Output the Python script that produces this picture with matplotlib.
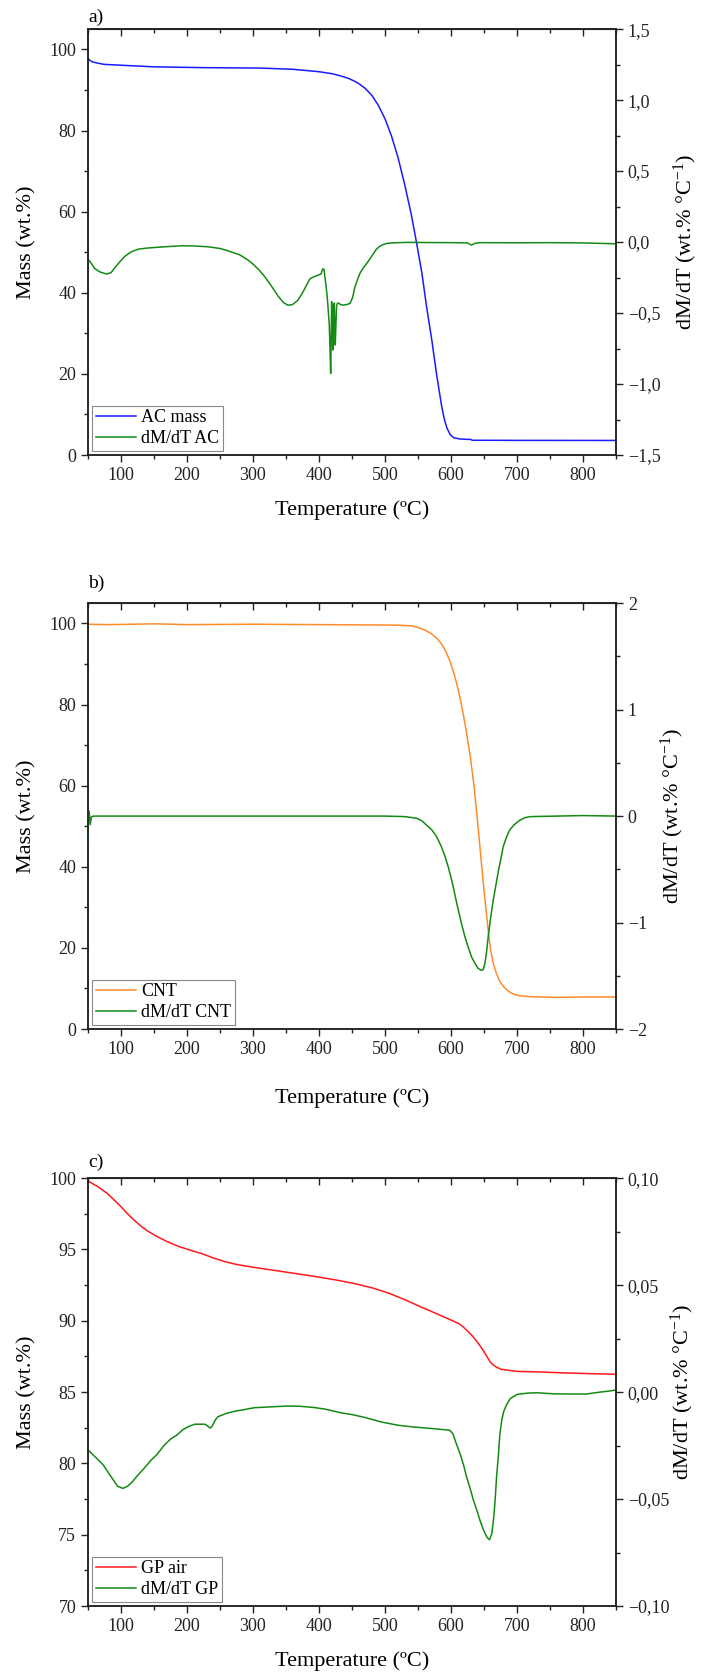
import matplotlib
matplotlib.use("Agg")
import matplotlib.pyplot as plt
import matplotlib.ticker as ticker

plt.rcParams["font.family"] = ["Liberation Serif", "DejaVu Serif"]
plt.rcParams["mathtext.fontset"] = "custom"
plt.rcParams["mathtext.rm"] = "Liberation Serif"
plt.rcParams["mathtext.it"] = "Liberation Serif:italic"

# ── a) activated carbon ──────────────────────────────────────────────────────
T_AC = [50, 52, 57, 65, 75, 100, 150, 225, 310, 360, 400, 420, 432, 444, 452,
        460, 470, 480, 490, 500, 510, 520, 530, 540, 548, 556, 563, 571, 578,
        586, 590, 594, 599, 604, 612, 620, 630, 632, 700, 850]
MASS_AC = [97.9, 97.4, 96.9, 96.6, 96.3, 96.1, 95.7, 95.5, 95.4, 95.1, 94.5,
           94.0, 93.5, 92.9, 92.3, 91.6, 90.4, 88.7, 86.2, 82.9, 78.6, 73.2,
           66.6, 59.2, 52.2, 44.8, 36.6, 28.3, 20.1, 11.9, 8.8, 6.6, 5.0, 4.3,
           4.0, 3.9, 3.85, 3.65, 3.62, 3.6]

T_AC_D = [50, 55, 60, 68, 78, 85, 90, 98, 106, 115, 126, 140, 151, 170, 191,
          210, 232, 250, 262, 280, 292, 300, 310, 318, 328, 338, 346, 353, 360,
          368, 376, 386, 392, 399, 403, 405.5, 407.5, 409, 411, 412.6, 414,
          415.6, 417, 417.7, 418.5, 419.2, 420.2, 421.2, 422.2, 423.2, 424,
          424.7, 425.7, 426.7, 428, 430.3, 433, 436.8, 442, 447, 451, 454.5,
          458, 462, 466, 470, 477, 482, 487, 492, 497, 503, 510, 520, 535, 560,
          600, 625, 631, 637, 645, 700, 750, 800, 850]
DMDT_AC = [-0.12, -0.15, -0.185, -0.21, -0.225, -0.215, -0.185, -0.14, -0.10,
           -0.07, -0.05, -0.042, -0.038, -0.032, -0.026, -0.027, -0.033, -0.045,
           -0.061, -0.09, -0.125, -0.155, -0.20, -0.245, -0.31, -0.38, -0.425,
           -0.445, -0.44, -0.41, -0.35, -0.26, -0.245, -0.232, -0.225, -0.19,
           -0.19, -0.245, -0.32, -0.39, -0.48, -0.58, -0.80, -0.925, -0.70,
           -0.42, -0.55, -0.76, -0.55, -0.43, -0.60, -0.725, -0.58, -0.445,
           -0.43, -0.432, -0.44, -0.444, -0.44, -0.432, -0.39, -0.315, -0.27,
           -0.22, -0.19, -0.165, -0.12, -0.085, -0.05, -0.03, -0.018, -0.009,
           -0.006, -0.004, -0.002, -0.003, -0.004, -0.006, -0.021, -0.008,
           -0.004, -0.005, -0.004, -0.006, -0.012]

# ── b) carbon nanotubes ──────────────────────────────────────────────────────
T_CNT = [50, 80, 120, 150, 200, 300, 400, 500, 520, 540, 550, 560, 570, 580,
         587, 593, 598, 603, 608, 613, 618, 623, 629, 635, 641, 649, 656.5, 660,
         664, 669, 674, 681, 689, 697, 705, 720, 760, 800, 850]
MASS_CNT = [99.8, 99.7, 99.8, 99.9, 99.7, 99.8, 99.7, 99.6, 99.55, 99.4, 99.0,
            98.4, 97.5, 96.1, 94.6, 92.8, 90.9, 88.5, 85.6, 82.2, 78.2, 73.6,
            67.4, 59.9, 49.9, 35.9, 24.1, 19.6, 16.2, 13.6, 11.7, 10.2, 9.1,
            8.5, 8.2, 8.0, 7.8, 7.9, 7.9]

T_CNT_D = [50, 51, 52, 53.5, 55, 58, 65, 100, 200, 300, 400, 500, 530, 548,
           556, 563, 571, 578, 585, 591, 596, 601, 606, 611, 616, 621, 626, 631,
           636, 641, 646.5, 649, 651.5, 654, 656.5, 660, 664, 668, 672, 676,
           679, 684, 689, 696, 704, 712, 720, 760, 800, 850]
DMDT_CNT = [-0.25, 0.05, 0.03, -0.08, -0.01, 0.0, 0.0, 0.0, 0.0, 0.0, 0.0, 0.0,
            -0.005, -0.02, -0.045, -0.085, -0.13, -0.19, -0.28, -0.38, -0.48,
            -0.60, -0.74, -0.88, -1.01, -1.13, -1.23, -1.32, -1.38, -1.43,
            -1.45, -1.44, -1.38, -1.27, -1.13, -0.96, -0.79, -0.65, -0.51,
            -0.39, -0.29, -0.20, -0.13, -0.08, -0.04, -0.015, -0.005, 0.0,
            0.005, 0.0]

# ── c) GP in air ─────────────────────────────────────────────────────────────
T_GP = [50, 65, 80, 100, 110, 120, 130, 140, 155, 170, 188, 205, 223, 240, 257,
        275, 298, 330, 359, 395, 427, 455, 481, 505, 529, 553, 578, 600, 612,
        619, 627, 634, 640, 647, 653, 659, 664, 669, 676, 684, 700, 730, 770,
        806, 850]
MASS_GP = [99.8, 99.4, 98.9, 98.0, 97.5, 97.05, 96.65, 96.3, 95.9, 95.55, 95.2,
           94.95, 94.7, 94.4, 94.15, 93.95, 93.77, 93.55, 93.35, 93.1, 92.85,
           92.6, 92.3, 91.95, 91.5, 91.0, 90.5, 90.05, 89.8, 89.55, 89.2, 88.85,
           88.5, 88.05, 87.6, 87.15, 86.9, 86.75, 86.6, 86.55, 86.45, 86.42,
           86.35, 86.3, 86.25]

T_GP_D = [50, 60, 73, 86, 95, 103, 110, 117, 125, 134, 145, 155, 165, 175, 185,
          194, 203, 212, 220, 227, 232, 235, 238, 243, 247, 255, 262, 275, 290,
          302, 320, 340, 353, 370, 393, 410, 434, 450, 469, 495, 520, 543, 570,
          598, 603, 608, 614, 619, 624, 629, 634, 639, 644, 650, 655, 658.5,
          662, 665, 667, 669, 672, 674, 677, 680, 684, 690, 700, 715, 730, 755,
          780, 805, 826, 840, 850]
DMDT_GP = [-0.027, -0.030, -0.034, -0.040, -0.044, -0.045, -0.044, -0.042,
           -0.039, -0.036, -0.032, -0.029, -0.025, -0.022, -0.020, -0.0175,
           -0.0160, -0.0150, -0.0150, -0.0150, -0.0160, -0.0168, -0.0160,
           -0.0130, -0.0115, -0.0105, -0.0097, -0.0088, -0.0080, -0.0073,
           -0.0070, -0.0067, -0.0065, -0.0066, -0.0072, -0.0080, -0.0097,
           -0.0105, -0.0118, -0.0140, -0.0155, -0.0163, -0.0170, -0.0178,
           -0.0195, -0.024, -0.029, -0.034, -0.040, -0.045, -0.0505, -0.055,
           -0.060, -0.065, -0.068, -0.069, -0.066, -0.058, -0.050, -0.040,
           -0.029, -0.020, -0.013, -0.009, -0.006, -0.003, -0.0011, -0.0005,
           -0.0003, -0.0008, -0.0009, -0.0009, 0.0, 0.0005, 0.001]

GREEN = "#138a13"
TICK_FS = 13
LABEL_FS = 16


def comma_fmt(decimals):
    def f(v, _):
        if abs(v) < 1e-9:
            v = 0.0
        s = f"{v:.{decimals}f}".replace(".", ",")
        return s.replace("-", "\u2212")
    return ticker.FuncFormatter(f)


def panel(fig, rect, letter, letter_y, t_m, mass, m_color, m_label, t_d, dmdt,
          d_label, ylim, ymaj, ymin, y2lim, y2maj, y2min, y2dec, ylab2_x, xlab_y):
    ax = fig.add_axes(rect)
    ax2 = ax.twinx()

    l1, = ax.plot(t_m, mass, color=m_color, lw=1.1, label=m_label)
    l2, = ax2.plot(t_d, dmdt, color=GREEN, lw=1.1, label=d_label)

    ax.set_xlim(50, 850)
    ax.set_ylim(*ylim)
    ax2.set_ylim(*y2lim)

    ax.xaxis.set_major_locator(ticker.FixedLocator(range(100, 900, 100)))
    ax.xaxis.set_minor_locator(ticker.MultipleLocator(50))
    ax.yaxis.set_major_locator(ticker.MultipleLocator(ymaj))
    ax.yaxis.set_minor_locator(ticker.MultipleLocator(ymin))
    ax2.yaxis.set_major_locator(ticker.MultipleLocator(y2maj))
    ax2.yaxis.set_minor_locator(ticker.MultipleLocator(y2min))
    ax2.yaxis.set_major_formatter(comma_fmt(y2dec))

    for a in (ax, ax2):
        a.tick_params(which="both", direction="out", labelsize=TICK_FS,
                      width=1.0, colors="#222222")
        a.tick_params(which="major", length=5)
        a.tick_params(which="minor", length=3)
        for sp in a.spines.values():
            sp.set_linewidth(1.1)
            sp.set_color("#222222")

    top = ax.secondary_xaxis("top")
    top.xaxis.set_major_locator(ticker.FixedLocator(range(100, 900, 100)))
    top.xaxis.set_minor_locator(ticker.MultipleLocator(50))
    top.tick_params(which="both", direction="in", labeltop=False, width=1.0,
                    colors="#222222")
    top.tick_params(which="major", length=5)
    top.tick_params(which="minor", length=3)

    ax.set_xlabel("Temperature (ºC)", fontsize=LABEL_FS)
    ax.xaxis.set_label_coords(0.5, xlab_y)
    ax.set_ylabel("Mass (wt.%)", fontsize=LABEL_FS)
    ax.yaxis.set_label_coords(-0.097, 0.5)
    ax2.set_ylabel("dM/dT (wt.% °C$^{-1}$)", fontsize=LABEL_FS)
    ax2.yaxis.set_label_coords(ylab2_x, 0.5)

    ax.text(0.0, letter_y, letter, transform=ax.transAxes, fontsize=14,
            ha="left", va="center")

    leg = ax2.legend([l1, l2], [m_label, d_label], loc="lower left",
                     fontsize=TICK_FS, frameon=True, fancybox=False,
                     framealpha=1, edgecolor="#888888", borderpad=0.2,
                     labelspacing=0.2, handlelength=2.2, handletextpad=0.3,
                     borderaxespad=0.25)
    leg.get_frame().set_linewidth(0.8)
    return ax, ax2


fig = plt.figure(figsize=(7.01, 16.73), dpi=100)

panel(fig, [0.1255, 0.7280, 0.7532, 0.2546], "a)", 1.028,
      T_AC, MASS_AC, "#1a1aff", "AC mass", T_AC_D, DMDT_AC, "dM/dT AC",
      (0, 105), 20, 10, (-1.5, 1.5), 0.5, 0.25, 1, 1.105, -0.105)

panel(fig, [0.1255, 0.3849, 0.7532, 0.2546], "b)", 1.047,
      T_CNT, MASS_CNT, "#ff8c2a", "CNT", T_CNT_D, DMDT_CNT, "dM/dT CNT",
      (0, 105), 20, 10, (-2, 2), 1, 0.5, 0, 1.081, -0.14)

panel(fig, [0.1255, 0.0400, 0.7532, 0.2558], "c)", 1.037,
      T_GP, MASS_GP, "#ff1a1a", "GP air", T_GP_D, DMDT_GP, "dM/dT GP",
      (70, 100), 5, 2.5, (-0.10, 0.10), 0.05, 0.025, 2, 1.100, -0.105)

fig.savefig("out.png", dpi=100)
